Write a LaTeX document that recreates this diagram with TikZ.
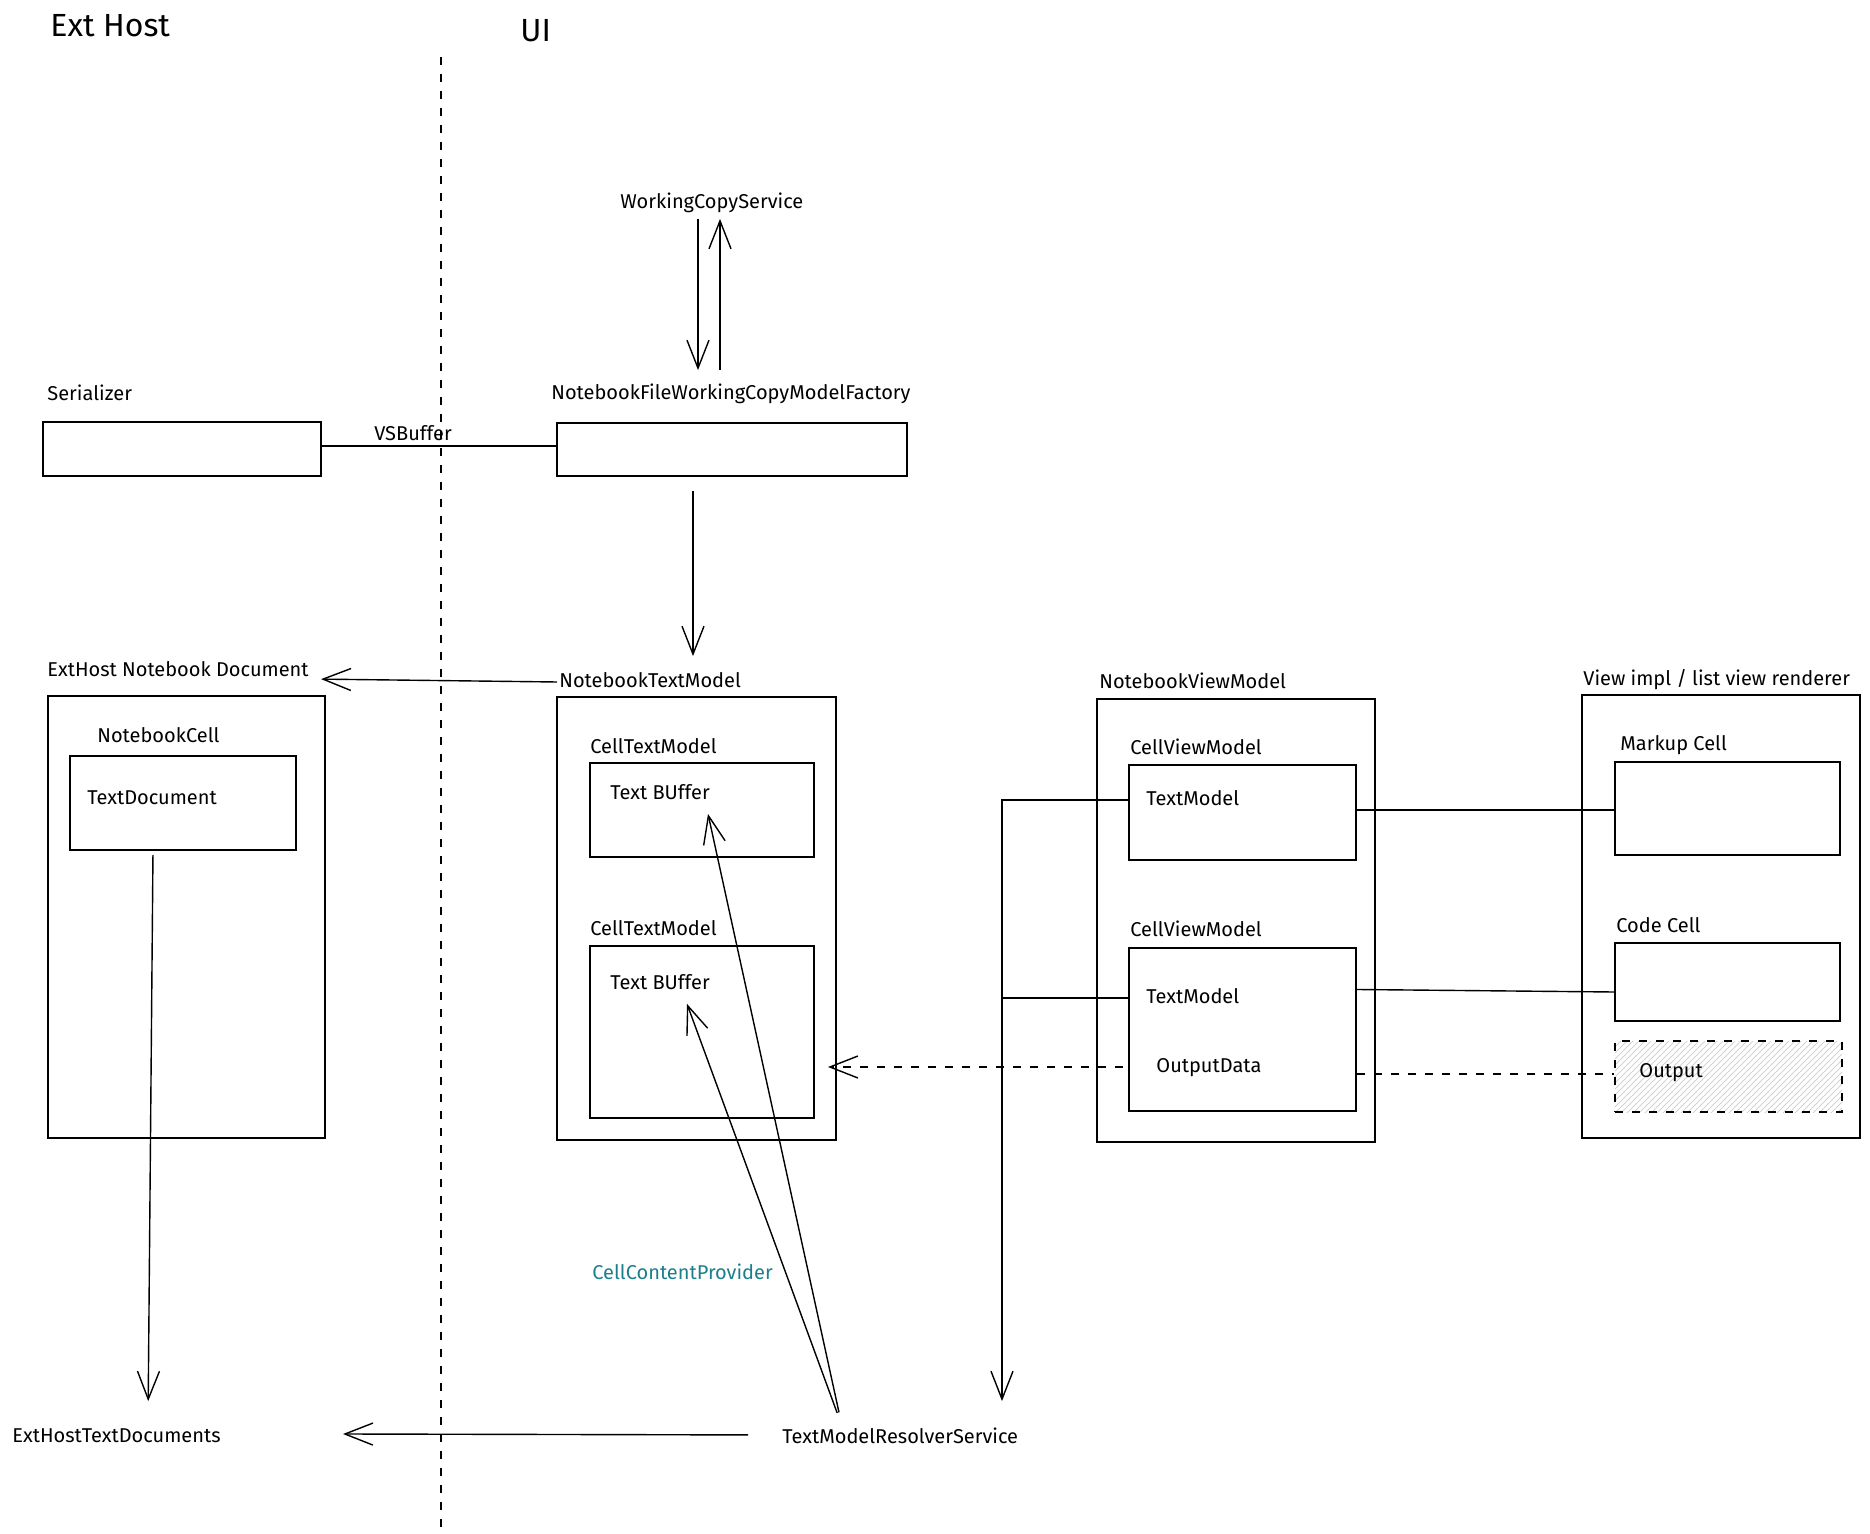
\documentclass[tikz,border=0pt]{standalone}
\usepackage{fontspec}
\setmainfont{Fira Sans}
\usetikzlibrary{arrows.meta,patterns,positioning}

\definecolor{provteal}{HTML}{1C7E8C}

\tikzset{
  box/.style={draw, line width=1pt, anchor=north west, inner sep=0pt},
  lbl/.style={anchor=west, inner sep=1pt, text height=7.5pt, text depth=2pt,
    font=\fontsize{10}{12}\selectfont},
  title/.style={anchor=west, inner sep=1pt, font=\fontsize{16}{19}\selectfont},
  link/.style={line width=0.7pt},
  arr/.style={line width=0.7pt, -{Straight Barb[length=14pt,width=11pt]}},
  dashline/.style={dash pattern=on 4pt off 4.5pt}
}

\begin{document}
\begin{tikzpicture}[x=0.5pt, y=-0.5pt]
  \useasboundingbox (0,0) rectangle (1870,1534);

  % sides
  \node[title] (exthost) at (48,26) {Ext Host};
  \node[title] (ui) at (518,31) {UI};
  \draw[line width=1pt, dashline] (441,57) -- (441,1527);

  % working copy
  \node[lbl] (wcs) at (618,203) {WorkingCopyService};
  \node[lbl] (ser) at (45,395) {Serializer};
  \node[box, minimum width=139pt, minimum height=27pt] (serbox) at (42,421) {};
  \node[lbl] (fact) at (549,394) {NotebookFileWorkingCopyModelFactory};
  \node[box, minimum width=175pt, minimum height=26.5pt] (factbox) at (556,422) {};
  \node[lbl] (vsbuf) at (372,435) {VSBuffer};

  % ext host side
  \node[lbl] (ehnd) at (45,671) {ExtHost Notebook Document};
  \node[box, minimum width=138.5pt, minimum height=221pt] (ehbox) at (47,695) {};
  \node[lbl] (nbcell) at (95,737) {NotebookCell};
  \node[box, minimum width=113pt, minimum height=47pt] (celldocbox) at (69,755) {};
  \node[lbl] (textdoc) at (85,799) {TextDocument};
  \node[lbl] (etd) at (10,1437) {ExtHostTextDocuments};

  % text model
  \node[lbl] (ntm) at (557,682) {NotebookTextModel};
  \node[box, minimum width=139.5pt, minimum height=221.5pt] (ntmbox) at (556,696) {};
  \node[lbl] (ctm1) at (588,748) {CellTextModel};
  \node[box, minimum width=112pt, minimum height=47pt] (ctm1box) at (589,762) {};
  \node[lbl] (tb1) at (608,794) {Text BUffer};
  \node[lbl] (ctm2) at (588,930) {CellTextModel};
  \node[box, minimum width=112pt, minimum height=86pt] (ctm2box) at (589,945) {};
  \node[lbl] (tb2) at (608,984) {Text BUffer};
  \node[lbl, text=provteal] (ccp) at (590,1274) {CellContentProvider};
  \node[lbl] (tmrs) at (780,1438) {TextModelResolverService};

  % view model
  \node[lbl] (nvm) at (1097,683) {NotebookViewModel};
  \node[box, minimum width=139pt, minimum height=221.5pt] (nvmbox) at (1096,698) {};
  \node[lbl] (cvm1) at (1128,749) {CellViewModel};
  \node[box, minimum width=113.5pt, minimum height=47.5pt] (cvm1box) at (1128,764) {};
  \node[lbl] (tm1) at (1144,800) {TextModel};
  \node[lbl] (cvm2) at (1128,931) {CellViewModel};
  \node[box, minimum width=113.5pt, minimum height=81.5pt] (cvm2box) at (1128,947) {};
  \node[lbl] (tm2) at (1144,998) {TextModel};
  \node[lbl] (od) at (1154,1067) {OutputData};

  % view impl
  \node[lbl] (viewr) at (1581,680) {View impl / list view renderer};
  \node[box, minimum width=139pt, minimum height=221.5pt] (viewbox) at (1581,694) {};
  \node[lbl] (markup) at (1618,745) {Markup Cell};
  \node[box, minimum width=112.5pt, minimum height=46.5pt] (markupbox) at (1614,761) {};
  \node[lbl] (code) at (1614,927) {Code Cell};
  \node[box, minimum width=112.5pt, minimum height=39pt] (codebox) at (1614,942) {};
  \node[box, dashline, pattern=north east lines, pattern color=gray!35,
    minimum width=113.5pt, minimum height=35.5pt] (outbox) at (1614,1040) {};
  \node[lbl] (out) at (1637,1072) {Output};

  % connectors
  \draw[arr, shorten <=2pt, shorten >=6pt] ([xshift=40pt]wcs.south west) -- ([xshift=74.5pt]fact.north west);
  \draw[arr, shorten <=6pt, shorten >=2pt] ([xshift=85.5pt]fact.north west) -- ([xshift=51pt]wcs.south west);
  \draw[link] ([yshift=1.5pt]serbox.east) -- ([yshift=1.75pt]factbox.west);
  \draw[arr, shorten <=7pt, shorten >=7pt] ([xshift=68.5pt]factbox.south west) -- ([xshift=68pt]ntm.north west);
  \draw[arr, shorten >=5pt] (ntm.west) -- ([yshift=-4pt]ehnd.east);
  \draw[arr, shorten <=2pt, shorten >=12pt] ([xshift=42pt]celldocbox.south west) -- ([xshift=69pt]etd.north west);
  \draw[arr, shorten <=16pt] ([yshift=1.5pt]tmrs.west) -- ([xshift=166.5pt,yshift=1.5pt]etd.west);
  \draw[arr, shorten <=7pt] ([xshift=31pt]tmrs.north west) -- ([xshift=50pt,yshift=-4pt]tb1.south west);
  \draw[arr, shorten <=7pt] ([xshift=31pt]tmrs.north west) -- ([xshift=39.5pt,yshift=-4pt]tb2.south west);

  \coordinate (bus) at ([xshift=111pt,yshift=12.5pt]tmrs.north west);
  \draw[arr] (cvm1box.west |- tm1.west) -| (bus);
  \draw[link] (cvm2box.west |- tm2.west) -- (bus |- tm2.west);
  \draw[arr, dashline, shorten <=15.5pt, shorten >=-4.5pt] (od.west) -- (ntmbox.east |- od.west);

  \draw[link] ([yshift=1.25pt]cvm1box.east) -- ([yshift=-0.75pt]markupbox.west);
  \draw[link] ([yshift=20pt]cvm2box.east) -- ([yshift=-5pt]codebox.west);
  \draw[link, dashline] ([yshift=1.25pt]cvm2box.east |- outbox.west) -- ([yshift=1.25pt]outbox.west);
\end{tikzpicture}
\end{document}
